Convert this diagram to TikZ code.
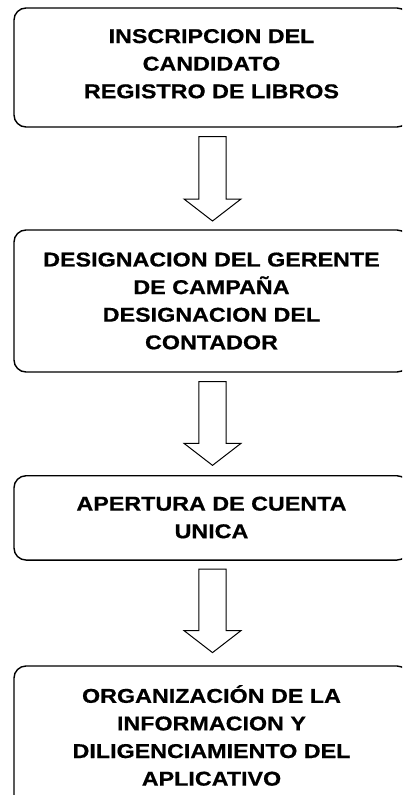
\documentclass[tikz,border=0pt]{standalone}
\usepackage{fontspec}
\newfontfamily\boxfont{Liberation Sans}[FakeStretch=1.165, BoldFeatures={FakeBold=0.6}]
\usetikzlibrary{calc}
\tikzset{
  stepbox/.style={draw=black, line width=1.4pt, rounded corners=12pt, minimum width=395pt, inner sep=0pt},
  steptext/.style={align=center, inner sep=0pt, font=\boxfont\bfseries\fontsize{20}{27.6}\selectfont},
  blk/.style={draw=black, line width=1pt, fill=white, line join=miter}
}
\newcommand\blockarr[2]{%
  \draw[blk] let \p1=(#1), \p2=(#2) in
    (\x1-13.7pt,\y1) -- (\x1+13.7pt,\y1) -- (\x1+13.7pt,\y2+22pt) -- (\x1+28.5pt,\y2+22pt)
    -- (\x2,\y2) -- (\x1-28.5pt,\y2+22pt) -- (\x1-13.7pt,\y2+22pt) -- cycle;}
\begin{document}
\begin{tikzpicture}[x=1pt,y=1pt]
\useasboundingbox (0,0) rectangle (402,-795);
\fill[white] (0,0) rectangle (402,-795);
\clip (0,0) rectangle (402,-795);
\node[stepbox, minimum height=119pt] (b1) at (211.5,-67.5) {};
\node[stepbox, minimum height=142pt] (b2) at (211.5,-301) {};
\node[stepbox, minimum height=84.3pt] (b3) at (211.5,-517.9) {};
\node[stepbox, minimum height=146pt] (b4) at (211.5,-739) {};
\node[steptext] (t1) at (211.5,-63.75) {INSCRIPCION DEL\\CANDIDATO\\REGISTRO DE LIBROS};
\node[steptext] (t2) at (211.5,-301) {DESIGNACION DEL GERENTE\\DE CAMPAÑA\\DESIGNACION DEL\\CONTADOR};
\node[steptext] (t3) at (211.5,-517.5) {APERTURA DE CUENTA\\UNICA};
\node[steptext, anchor=south] (t4) at (211.5,-786) {ORGANIZACIÓN DE LA\\INFORMACION Y\\DILIGENCIAMIENTO DEL\\APLICATIVO};
\coordinate (s1) at ($(b1.south)+(1,-9)$);
\coordinate (e1) at ($(b2.north)+(1,8.3)$);
\coordinate (s2) at ($(b2.south)+(1,-9)$);
\coordinate (e2) at ($(b3.north)+(1,9.7)$);
\coordinate (s3) at ($(b3.south)+(1,-8.3)$);
\coordinate (e3) at ($(b4.north)+(1,12.7)$);
\blockarr{s1}{e1}
\blockarr{s2}{e2}
\blockarr{s3}{e3}
\end{tikzpicture}
\end{document}
